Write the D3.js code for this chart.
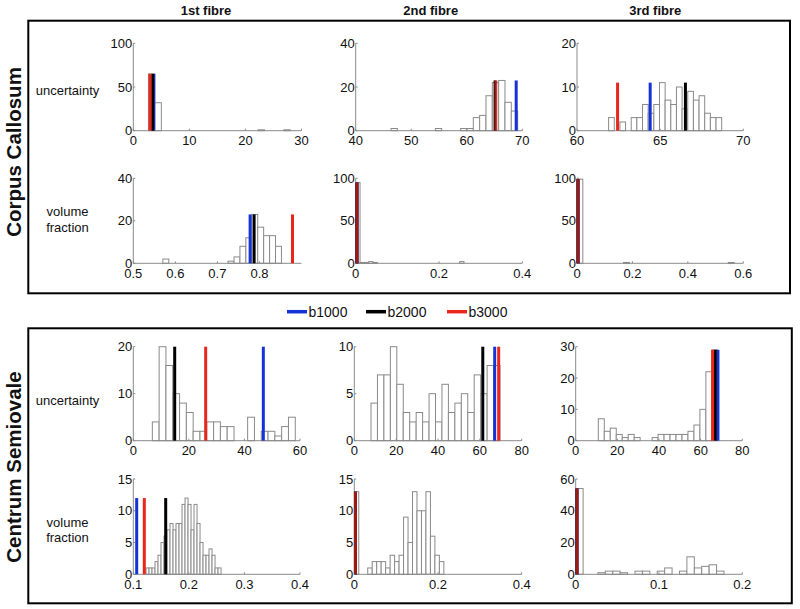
<!DOCTYPE html>
<html><head><meta charset="utf-8">
<script src="https://cdn.jsdelivr.net/npm/d3@7"></script>
<style>
body{margin:0;background:#fff}
text{font-family:"Liberation Sans",Arial,Helvetica,sans-serif}
</style>
</head><body>
<svg id="chart" width="800" height="609"></svg>
<script>
// ---------------- data ----------------
const columnTitles = ["1st fibre", "2nd fibre", "3rd fibre"];
const regionTitles = ["Corpus Callosum", "Centrum Semiovale"];
const measureTitles = [["uncertainty"], ["volume", "fraction"]];
const legendLabels = ["b1000", "b2000", "b3000"];

// panel order: CC uncertainty 1-3, CC volume fraction 1-3, CS uncertainty 1-3, CS volume fraction 1-3
const xDomains = [[0,30],[40,70],[60,70],[0.5,0.9],[0,0.4],[0,0.6],[0,60],[0,80],[0,80],[0.1,0.4],[0,0.4],[0,0.2]];
const xTicks = [[0,10,20,30],[40,50,60,70],[60,65,70],[0.5,0.6,0.7,0.8],[0,0.2,0.4],[0,0.2,0.4,0.6],
                [0,20,40,60],[0,20,40,60,80],[0,20,40,60,80],[0.1,0.2,0.3,0.4],[0,0.2,0.4],[0,0.1,0.2]];
const yMax = [100,40,20,40,100,100,20,10,30,15,15,60];
const yTicks = [[0,50,100],[0,20,40],[0,10,20],[0,20,40],[0,50,100],[0,50,100],
                [0,10,20],[0,5,10],[0,10,20,30],[0,5,10,15],[0,5,10,15],[0,20,40,60]];
const binStart = [2.7,46.36,61.9,0.5703,0,0,6.85,7.98,10.86,0.1229,0,0];
const binWidth = [1.15,1.14,0.34,0.0141,0.0104,0.021,2.45,3.083,2.87,0.0054,0.0107,0.0089];
const binCounts = [
  [65,32,0,0,0,0,0,0,0,0,0,0,0,0,0,0,0,1,0,0,0,1],
  [1,0,0,0,0,0,0,1,0,0,0,1,1,6,7,16,22,23,13,9],
  [3,0,2,0,3,3,6,4,6,11,7,6,10,5,9,7,8,4,3,3],
  [2,0,0,0,0,0,0,0,0,0,0,1,3,8,12,23,17,13,13,8],
  [95,1,1,2,1,0,0,0,0,0,0,0,0,0,0,0,0,0,0,0,0,0,0,0,2],
  [99,0,0,0,0,0,0,0,1,0,0,0,0,0,0,0,0,0,0,0,0,0,0,0,0,0,1],
  [4,20,16,10,8,6,2,2,4,4,3,3,0,0,5,0,2,2,1,3,5],
  [4,7,7,10,6,3,2,3,2,5,2,6,3,4,5,3,7,5,8,8],
  [7,3,4,2,1,2,1,0,0,1,2,2,2,2,2,3,5,10,22,29],
  [1,1,1,2,3,5,6,7,8,7,8,8,11,12,11,7,11,8,5,3,3,4,3,1,1],
  [13,0,0,1,2,2,2,1,3,2,3,9,5,13,10,10,13,6,3,2],
  [54,0,0,1,2,2,1,0,2,2,0,2,4,0,2,11,4,5,6,2]
];
const b1000 = [3.64,68.9,64.4,0.7778,0.003,0.0037,46.8,67.1,68.3,0.1061,0.0028,0.0015];
const b2000 = [3.45,65.1,66.52,0.7873,0.003,0.0037,14.9,61.4,67.03,0.1583,0.0028,0.0015];
const b3000 = [2.98,65.25,62.44,0.8786,0.003,0.0037,26.05,69.0,65.75,0.1198,0.0028,0.0015];
const markHeight = [65,23,11,23,95,99,20,10,29,12,13,54];

// ---------------- layout ----------------
const colXTop = [[133.3,301.5],[355.7,522.3],[577,743.3]];
const colXBot = [[133.3,300],[354.3,521.7],[575.7,742.3]];
const rowY = [[43.3,130.7],[178.3,263.3],[346.7,440.7],[479,574.3]];
const lineColors = ["#1432d6", "#000000", "#e8261c"];
const barStroke = "#8a8a8a";
const axisStroke = "#8a8a8a";

const svg = d3.select("#chart");
svg.append("rect").attr("width",800).attr("height",609).attr("fill","#fff");

// frames
svg.append("rect").attr("x",28.3).attr("y",20.7).attr("width",761.7).attr("height",272.6)
  .attr("fill","none").attr("stroke","#000").attr("stroke-width",2);
svg.append("rect").attr("x",28.3).attr("y",328.3).attr("width",763.5).attr("height",275)
  .attr("fill","none").attr("stroke","#000").attr("stroke-width",2);

// column titles
const colTitleX = [206, 430.7, 655.3];
columnTitles.forEach((t,i)=>{
  svg.append("text").attr("x",colTitleX[i]).attr("y",15).attr("text-anchor","middle")
    .attr("font-size",13).attr("font-weight","bold").attr("fill","#111").text(t);
});

// region titles
const regionY = [152, 467];
regionTitles.forEach((t,i)=>{
  svg.append("text").attr("transform",`translate(21,${regionY[i]}) rotate(-90)`)
    .attr("text-anchor","middle").attr("font-size",20.5).attr("font-weight","bold")
    .attr("fill","#111").text(t);
});

// measure labels
const measureBase = [[95],[216,231.7],[405],[526.7,541.7]];
for (let r=0;r<4;r++){
  const lines = measureTitles[r%2];
  lines.forEach((t,j)=>{
    svg.append("text").attr("x",67.5).attr("y",measureBase[r][j]).attr("text-anchor","middle")
      .attr("font-size",13).attr("fill","#111").text(t);
  });
}

// legend
const legX = [287, 366, 447];
legendLabels.forEach((t,i)=>{
  svg.append("line").attr("x1",legX[i]).attr("x2",legX[i]+20).attr("y1",311.7).attr("y2",311.7)
    .attr("stroke",lineColors[i]).attr("stroke-width",3.5);
  svg.append("text").attr("x",legX[i]+21.5).attr("y",316.7).attr("font-size",14)
    .attr("fill","#111").text(t);
});

// panels
const fmt = v => String(+v.toFixed(4));
for (let p=0;p<12;p++){
  const r = Math.floor(p/3), c = p%3;
  const cx = (r<2 ? colXTop : colXBot)[c];
  const [y0, y1] = rowY[r];
  const xs = d3.scaleLinear().domain(xDomains[p]).range(cx);
  const ys = d3.scaleLinear().domain([0,yMax[p]]).range([y1,y0]);
  const g = svg.append("g");

  // bars
  const bars = binCounts[p].map((n,k)=>({k,n})).filter(d=>d.n>0);
  g.selectAll("rect.bar").data(bars).enter().append("rect")
    .attr("x",d=>xs(binStart[p]+d.k*binWidth[p]))
    .attr("width",d=>xs(binStart[p]+(d.k+1)*binWidth[p])-xs(binStart[p]+d.k*binWidth[p]))
    .attr("y",d=>ys(Math.min(d.n,yMax[p])))
    .attr("height",d=>ys(0)-ys(Math.min(d.n,yMax[p])))
    .attr("fill","#fff").attr("stroke",barStroke).attr("stroke-width",1);

  // axes lines
  g.append("line").attr("x1",cx[0]).attr("x2",cx[0]).attr("y1",y0).attr("y2",y1)
    .attr("stroke",axisStroke).attr("stroke-width",1);
  g.append("line").attr("x1",cx[0]).attr("x2",cx[1]).attr("y1",y1).attr("y2",y1)
    .attr("stroke",axisStroke).attr("stroke-width",1);
  // inward ticks
  xTicks[p].forEach(v=>{
    g.append("line").attr("x1",xs(v)).attr("x2",xs(v)).attr("y1",y1).attr("y2",y1-2)
      .attr("stroke",axisStroke).attr("stroke-width",1);
    g.append("text").attr("x",xs(v)).attr("y",y1+14.3).attr("text-anchor","middle")
      .attr("font-size",13).attr("fill","#111").text(fmt(v));
  });
  yTicks[p].forEach(v=>{
    g.append("line").attr("x1",cx[0]).attr("x2",cx[0]+2).attr("y1",ys(v)).attr("y2",ys(v))
      .attr("stroke",axisStroke).attr("stroke-width",1);
    g.append("text").attr("x",cx[0]-1).attr("y",ys(v)+4.6).attr("text-anchor","end")
      .attr("font-size",13).attr("fill","#111").text(fmt(v));
  });

  // b-value marker lines: blue, black, then red on top
  const marks = [b1000[p], b2000[p], b3000[p]];
  const overlap = Math.abs(xs(b3000[p]) - xs(b2000[p])) < 1.5;
  marks.forEach((m,i)=>{
    g.append("line").attr("x1",xs(m)).attr("x2",xs(m)).attr("y1",ys(0)).attr("y2",ys(markHeight[p]))
      .attr("stroke",lineColors[i]).attr("stroke-width",3)
      .attr("stroke-opacity", (i===2 && overlap) ? 0.68 : 1);
  });
}
</script>
</body></html>
